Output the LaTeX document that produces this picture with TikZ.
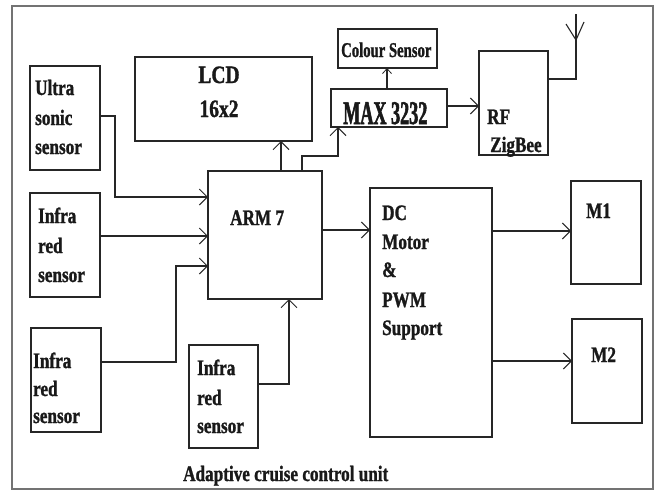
\documentclass[tikz,border=0pt]{standalone}
\usepackage{fontspec}
\setmainfont{Liberation Serif}[UprightFont=* Bold,FakeStretch=0.78,FakeBold=1.2]
\newfontfamily\maxfont{Liberation Serif}[UprightFont=* Bold,FakeStretch=0.55,FakeBold=1.6]
\newfontfamily\colfont{Liberation Serif}[UprightFont=* Bold,FakeStretch=0.70,FakeBold=1.0]
\usetikzlibrary{arrows.meta}
\begin{document}
\begin{tikzpicture}[x=1pt,y=-1pt,
  box/.style={draw=black!85,line width=1.6pt,inner sep=0pt,outer sep=0pt},
  txt/.style={anchor=base west,inner sep=0pt,font=\fontsize{22}{26}\selectfont,text=black!90},
  conn/.style={draw=black!85,line width=1.4pt},
  arr/.style={conn,-{Straight Barb[length=8pt,width=16pt,line width=1pt]}},
  sarr/.style={conn,-{Straight Barb[length=5pt,width=9pt,line width=0.8pt]}}]
\useasboundingbox (0,0) rectangle (659,490);
\fill[white] (0,0) rectangle (659,490);
% frame
\node[draw=black!55,line width=1.5pt,minimum width=641pt,minimum height=483pt,inner sep=0pt] (frame) at (332.5,247.5) {};
% boxes
\node[box,minimum width=70pt,minimum height=104pt] (US) at (65,118) {};
\node[box,minimum width=70pt,minimum height=104pt] (IR1) at (65,245) {};
\node[box,minimum width=70pt,minimum height=104pt] (IR2) at (66,380) {};
\node[box,minimum width=69pt,minimum height=103pt] (IR3) at (223.5,396.5) {};
\node[box,minimum width=177pt,minimum height=84pt] (LCD) at (223.5,99) {};
\node[box,minimum width=114pt,minimum height=128pt] (ARM) at (265,235) {};
\node[box,minimum width=99pt,minimum height=39pt,line width=1.2pt] (COL) at (387.5,48.5) {};
\node[box,minimum width=116pt,minimum height=38pt] (MAX) at (389,108) {};
\node[box,minimum width=69pt,minimum height=104pt] (RF) at (513.5,103) {};
\node[box,minimum width=122pt,minimum height=249pt] (DC) at (431,312.5) {};
\node[box,minimum width=70pt,minimum height=103pt] (M1) at (606,232.5) {};
\node[box,minimum width=70pt,minimum height=104pt] (M2) at (607,371) {};
% texts
\node[txt] (t1) at (35,95) {Ultra};
\node[txt] (t2) at (35,125) {sonic};
\node[txt] (t3) at (35,154) {sensor};
\node[txt] (t4) at (38,223) {Infra};
\node[txt] (t5) at (38,253) {red};
\node[txt] (t6) at (38,282) {sensor};
\node[txt] (t7) at (33,368) {Infra};
\node[txt] (t8) at (33,396) {red};
\node[txt] (t9) at (33,423) {sensor};
\node[txt] (t10) at (197,375) {Infra};
\node[txt] (t11) at (197,405) {red};
\node[txt] (t12) at (197,433) {sensor};
\node[txt,anchor=base,font=\fontsize{25}{30}\selectfont] (t13) at (219,83) {LCD};
\node[txt,anchor=base,font=\fontsize{25}{30}\selectfont] (t14) at (219,117) {16x2};
\node[txt] (t15) at (230,225) {ARM 7};
\node[txt,font=\maxfont\fontsize{33}{36}\selectfont] (t16) at (343,124) {MAX 3232};
\node[txt,font=\colfont\fontsize{21}{24}\selectfont] (t17) at (341,57) {Colour Sensor};
\node[txt] (t18) at (487,124) {RF};
\node[txt] (t19) at (490,152) {ZigBee};
\node[txt] (t20) at (382,220) {DC};
\node[txt] (t21) at (382,249) {Motor};
\node[txt] (t22) at (382,277) {\&};
\node[txt] (t23) at (382,307) {PWM};
\node[txt] (t24) at (382,335) {Support};
\node[txt] (t25) at (586,218) {M1};
\node[txt] (t26) at (591,362) {M2};
\node[txt] (cap) at (183,481) {Adaptive cruise control unit};
% connectors
\coordinate (ant) at (576,14);
\draw[arr] (US.east |- 0,116) -- (115,116) -- (115,197) -- (ARM.west |- 0,197);
\draw[arr] (IR1.east |- 0,236) -- (ARM.west |- 0,236);
\draw[arr] (IR2.east |- 0,362) -- (176,362) -- (176,266) -- (ARM.west |- 0,266);
\draw[arr] (IR3.east |- 0,384) -- (289,384) -- (ARM.south -| 289,0);
\draw[arr] (ARM.north -| 281,0) -- (LCD.south -| 281,0);
\draw[arr] (ARM.north -| 302,0) -- (302,156) -- (338,156) -- (MAX.south -| 338,0);
\draw[sarr] (MAX.north -| 387,0) -- (COL.south -| 387,0);
\draw[arr] (MAX.east |- 0,106) -- (RF.west |- 0,106);
\draw[conn] (RF.east |- 0,79) -- (576,79) -- (ant);
\draw[conn,line width=1.1pt] (566,24) -- (576,40) -- (584,22);
\draw[arr] (ARM.east |- 0,230) -- (DC.west |- 0,230);
\draw[arr] (DC.east |- 0,231) -- (M1.west |- 0,231);
\draw[arr] (DC.east |- 0,361) -- (M2.west |- 0,361);
\end{tikzpicture}
\end{document}
